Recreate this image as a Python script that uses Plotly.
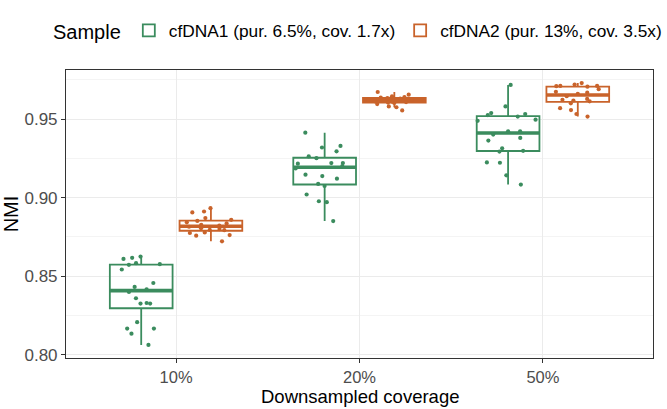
import numpy as np
import plotly.graph_objects as go

coverage = ["10%", "20%", "50%"]
samples = ["cfDNA1 (pur. 6.5%, cov. 1.7x)", "cfDNA2 (pur. 13%, cov. 3.5x)"]

cfdna1_10 = [0.8625, 0.8617, 0.8610, 0.8573, 0.8583, 0.8577, 0.8543, 0.8457, 0.8432, 0.8400,
             0.8417, 0.8326, 0.8330, 0.8360, 0.8326, 0.8167, 0.8208, 0.8167, 0.8135, 0.8063]
cfdna1_20 = [0.9413, 0.9319, 0.9329, 0.9295, 0.9262, 0.9251, 0.9220, 0.9220, 0.9216, 0.9200,
             0.9186, 0.9146, 0.9121, 0.9137, 0.9087, 0.9074, 0.9020, 0.8977, 0.8971, 0.8851]
cfdna1_50 = [0.9717, 0.9580, 0.9538, 0.9525, 0.9516, 0.9532, 0.9496, 0.9489, 0.9422, 0.9422,
             0.9401, 0.9380, 0.9363, 0.9314, 0.9298, 0.9293, 0.9224, 0.9222, 0.9142, 0.9083]
cfdna2_10 = [0.8722, 0.8758, 0.8762, 0.8775, 0.8779, 0.8793, 0.8795, 0.8800, 0.8806, 0.8815,
             0.8822, 0.8827, 0.8836, 0.8843, 0.8852, 0.8859, 0.8870, 0.8906, 0.8912, 0.8933]
cfdna2_20 = [0.9555, 0.9575, 0.9580, 0.9595, 0.9602, 0.9605, 0.9608, 0.9610, 0.9613, 0.9616,
             0.9620, 0.9623, 0.9627, 0.9630, 0.9633, 0.9636, 0.9640, 0.9645, 0.9655, 0.9672]
cfdna2_50 = [0.9516, 0.9532, 0.9557, 0.9569, 0.9600, 0.9613, 0.9618, 0.9622, 0.9628, 0.9645,
             0.9660, 0.9668, 0.9673, 0.9690, 0.9706, 0.9709, 0.9711, 0.9711, 0.9719, 0.9729]

series = [[cfdna1_10, cfdna1_20, cfdna1_50], [cfdna2_10, cfdna2_20, cfdna2_50]]
colors = ["#3B8C5E", "#C9632B"]
x_title = "Downsampled coverage"
y_title = "NMI"


def stats(vals):
    a = np.array(vals)
    q1, med, q3 = np.percentile(a, [25, 50, 75])
    iqr = q3 - q1
    lo = a[a >= q1 - 1.5 * iqr].min()
    hi = a[a <= q3 + 1.5 * iqr].max()
    return q1, med, q3, lo, hi


fig = go.Figure()
for i, (name, groups, color) in enumerate(zip(samples, series, colors)):
    st = [stats(g) for g in groups]
    q1 = [s[0] for s in st]
    med = [s[1] for s in st]
    q3 = [s[2] for s in st]
    lo = [s[3] for s in st]
    hi = [s[4] for s in st]
    og = "g%d" % i
    fig.add_trace(go.Box(
        x=coverage, q1=q1, median=med, q3=q3, lowerfence=lo, upperfence=hi,
        name=name, offsetgroup=og, legendgroup=name,
        line=dict(color=color, width=1.8), fillcolor="rgba(255,255,255,0)",
        whiskerwidth=0, boxpoints=False, hoverinfo="skip"))
    fig.add_trace(go.Box(
        x=coverage, q1=med, median=med, q3=med, lowerfence=med, upperfence=med,
        name=name, offsetgroup=og, legendgroup=name, showlegend=False,
        line=dict(color=color, width=3.6), fillcolor="rgba(255,255,255,0)",
        whiskerwidth=0, boxpoints=False, hoverinfo="skip"))
    xs = [c for c, g in zip(coverage, groups) for _ in g]
    ys = [v for g in groups for v in g]
    fig.add_trace(go.Box(
        x=xs, y=ys, name=name, offsetgroup=og, legendgroup=name, showlegend=False,
        boxpoints="all", jitter=1, pointpos=0,
        marker=dict(color=color, size=4.2),
        line=dict(color="rgba(0,0,0,0)", width=0), fillcolor="rgba(0,0,0,0)",
        hoverinfo="skip"))

font_family = "Liberation Sans, Arial, sans-serif"
fig.update_layout(
    width=667, height=409,
    margin=dict(l=66, r=14, t=70, b=51),
    paper_bgcolor="white", plot_bgcolor="white",
    boxmode="group", boxgap=0.24, boxgroupgap=0.1,
    font=dict(family=font_family, color="black"),
    legend=dict(
        orientation="h", x=-0.024, xanchor="left", y=1.137, yanchor="middle",
        title=dict(text="Sample", font=dict(size=20, color="black")),
        font=dict(size=17.3, color="black"), itemwidth=30,
        bgcolor="rgba(0,0,0,0)"),
    annotations=[dict(
        text=x_title, xref="paper", yref="paper", x=0.5, y=-0.1736,
        xanchor="center", yanchor="bottom", showarrow=False, borderpad=0,
        font=dict(size=18.5, color="black"))],
)
fig.update_xaxes(
    type="category", range=[-0.6, 2.6],
    showgrid=True, gridcolor="#EBEBEB", gridwidth=1.1,
    showline=True, mirror=True, linecolor="#333333", linewidth=1.1,
    ticks="outside", ticklen=4, tickcolor="#333333", tickwidth=1.1,
    tickfont=dict(size=16.5, color="#4D4D4D"),
    automargin=False, zeroline=False)
fig.update_yaxes(
    range=[0.798, 0.9812], tick0=0.8, dtick=0.05, tickformat=".2f",
    showgrid=True, gridcolor="#EBEBEB", gridwidth=1.1,
    minor=dict(tick0=0.825, dtick=0.05, showgrid=True, gridcolor="#F4F4F4", gridwidth=0.6),
    showline=True, mirror=True, linecolor="#333333", linewidth=1.1,
    ticks="outside", ticklen=4, tickcolor="#333333", tickwidth=1.1,
    tickfont=dict(size=17, color="#4D4D4D"),
    title=dict(text=y_title, font=dict(size=20, color="black"), standoff=5),
    automargin=False, zeroline=False)

fig.write_html("out.html")
